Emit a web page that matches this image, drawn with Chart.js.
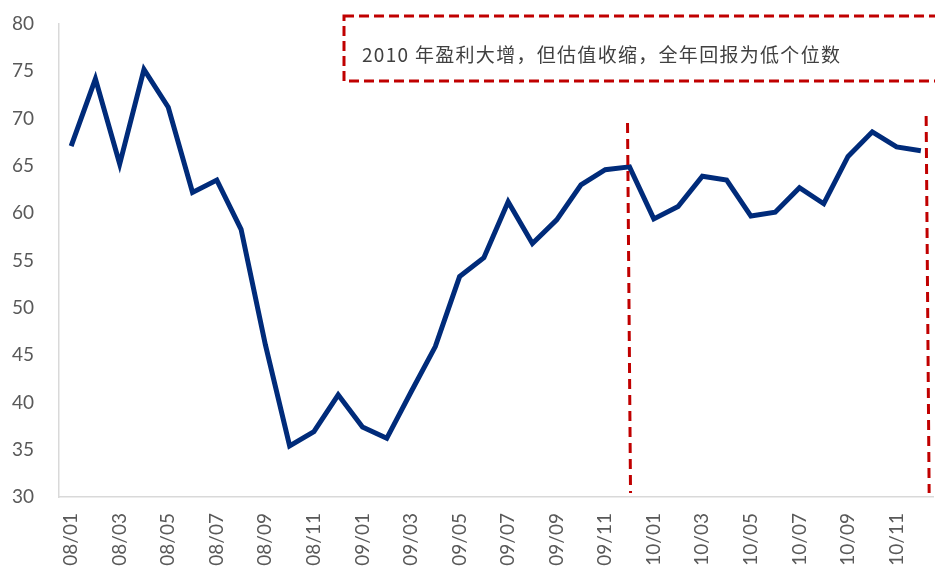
<!DOCTYPE html>
<html>
<head>
<meta charset="utf-8">
<script src="https://cdn.jsdelivr.net/npm/chart.js@4.4.0/dist/chart.umd.min.js"></script>
<style>
html, body { margin: 0; padding: 0; background: #fff; }
#wrap { position: relative; width: 935px; height: 572px; }
</style>
</head>
<body>
<div id="wrap"><canvas id="lineChart" width="935" height="572"></canvas></div>
<script>
// months 08/01 .. 10/12
var months = [
  "08/01","08/02","08/03","08/04","08/05","08/06","08/07","08/08","08/09","08/10","08/11","08/12",
  "09/01","09/02","09/03","09/04","09/05","09/06","09/07","09/08","09/09","09/10","09/11","09/12",
  "10/01","10/02","10/03","10/04","10/05","10/06","10/07","10/08","10/09","10/10","10/11","10/12"
];
var values = [
  67.1, 74.2, 65.2, 75.2, 71.2, 62.2, 63.5, 58.3, 46.1, 35.4, 36.9, 40.8,
  37.4, 36.2, 41.1, 45.9, 53.3, 55.3, 61.2, 56.8, 59.3, 63.0, 64.6, 64.9,
  59.4, 60.7, 63.9, 63.5, 59.7, 60.1, 62.7, 61.0, 66.0, 68.6, 67.0, 66.6
];
var yTicks = [30, 35, 40, 45, 50, 55, 60, 65, 70, 75, 80];
var note = "2010 年盈利大增，但估值收缩，全年回报为低个位数";
var markAt = [23, 35.3];   // red dashed separators (category index)

var tickFont = { family: "Lato, 'Open Sans', sans-serif", size: 19 };

// red dashed separators and the note box
var marks = {
  id: 'marks',
  afterDatasetsDraw: function (chart) {
    var c = chart.ctx, x = chart.scales.x, a = chart.chartArea;
    c.save();
    c.strokeStyle = '#c00000';
    c.lineWidth = 3;
    c.setLineDash([10, 6]);
    var tops = [123, 116];
    markAt.forEach(function (m, i) {
      var px = x.getPixelForValue(m);
      c.beginPath();
      c.moveTo(px - 2, tops[i]);
      c.lineTo(px + 1, a.bottom - 4);
      c.stroke();
    });
    c.setLineDash([10, 5]);
    c.strokeRect(344, 16, 620, 65);
    c.setLineDash([]);
    c.fillStyle = '#404040';
    c.font = "19px 'Noto Sans CJK SC', sans-serif";
    c.letterSpacing = '1.3px';
    c.textBaseline = 'middle';
    c.fillText(note, 362, 55);
    c.restore();
  }
};

var ctxL = document.getElementById("lineChart").getContext('2d');
var myLineChart = new Chart(ctxL, {
  type: 'line',
  data: {
    labels: months,
    datasets: [{
      data: values,
      borderColor: '#002b7a',
      borderWidth: 5,
      pointRadius: 0,
      tension: 0,
      fill: false
    }]
  },
  options: {
    responsive: false,
    animation: false,
    layout: { padding: { top: 24, right: 2, left: 0, bottom: 0 } },
    plugins: { legend: { display: false }, tooltip: { enabled: false } },
    scales: {
      x: {
        offset: true,
        grid: { display: false },
        border: { display: true, color: '#d9d9d9', width: 1.5 },
        ticks: {
          autoSkip: false,
          maxRotation: 90,
          minRotation: 90,
          color: '#595959',
          font: tickFont,
          padding: 8,
          callback: function (v, i) { return i % 2 === 0 ? months[i] : ''; }
        },
        afterFit: function (s) { s.height = 75; s.paddingLeft = 0; s.paddingRight = 0; }
      },
      y: {
        min: 30,
        max: 80,
        grid: { display: false },
        border: { display: true, color: '#d9d9d9', width: 1.5 },
        afterBuildTicks: function (s) { s.ticks = yTicks.map(function (v) { return { value: v }; }); },
        ticks: { color: '#595959', font: tickFont, padding: 17 },
        afterFit: function (s) { s.width = 59; s.paddingTop = 0; s.paddingBottom = 0; }
      }
    }
  },
  plugins: [marks]
});
</script>
</body>
</html>
